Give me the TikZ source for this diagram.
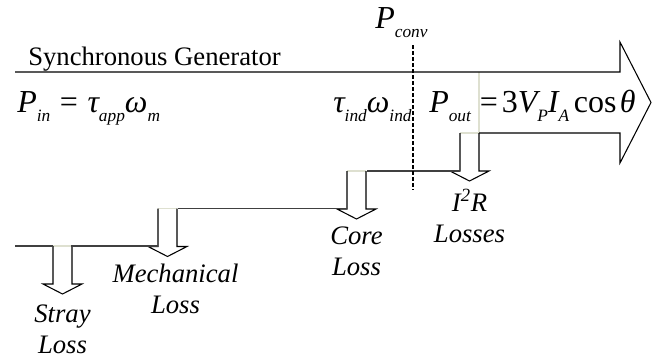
\documentclass[tikz,border=0pt]{standalone}
\usepackage{fontspec}
\setmainfont{Liberation Serif}
\usetikzlibrary{positioning}

\definecolor{seamgray}{RGB}{222,224,208}

\newcommand{\sbscr}[1]{\raisebox{-0.3em}{\fontsize{13}{13}\selectfont #1}}
\newcommand{\eqsign}{\hspace{0.3em}{\upshape =}\hspace{0.3em}}

\begin{document}
\begin{tikzpicture}[
    x=0.75pt,
    y=-0.75pt,
    outline/.style={draw=black, line width=0.8pt},
    stair/.style={draw=black!75, line width=0.9pt},
    seam/.style={draw=seamgray, line width=0.9pt},
    convline/.style={draw=black, line width=1.1pt, dash pattern=on 3pt off 1.5pt},
    title/.style={font=\fontsize{20}{24}\selectfont, inner sep=0pt, anchor=base west},
    power/.style={font=\fontsize{24}{28}\selectfont\itshape, inner sep=0pt, anchor=base west},
    losslabel/.style={font=\fontsize{20}{23}\selectfont\itshape, align=center, inner sep=0pt}
  ]
    \useasboundingbox (0,0) rectangle (657,362);

    \draw[seam] (479,72) -- (479,133);
    \draw[outline] (15,72) -- (620,72) -- (620,42) -- (651,102.5) -- (620,163) -- (620,133) -- (479,133);

    \foreach \xl/\yt/\name in {53/246/stray,158/208.5/mech,347/171/core,460/133/cu} {
      \draw[seam] (\xl,\yt) -- ++(19,0);
      \draw[outline] (\xl+19,\yt) -- ++(0,38) -- ++(10,0) -- ++(-19.5,10) coordinate (\name)
        -- ++(-19.5,-10) -- ++(10,0) -- ++(0,-38);
    }

    \foreach \xa/\xb/\y in {460/367/171,347/178/208.5,158/71/246,53/15/246}
      \draw[stair] (\xa,\y) -- (\xb,\y);

    \coordinate (convtop) at (413,45);
    \coordinate (convbot) at (413,190);
    \draw[convline] (convtop) -- (convbot);

    \node[title] (gen) at (28,65) {Synchronous Generator};
    \node[power] (pin) at (17,112) {P\sbscr{in}\eqsign τ\sbscr{app}ω\sbscr{m}};
    \node[power] (pind) at (333,112) {τ\sbscr{ind}ω\sbscr{ind}};
    \node[power] (pout) at (429,112) {P\sbscr{out}\hspace{0.28em}{\upshape =}\hspace{0.12em}{\upshape 3}V\sbscr{P}I\sbscr{A}\hspace{0.15em}{\upshape cos}\hspace{0.1em}θ};
    \node[power] (pconv) at (375,28) {P\sbscr{conv}};

    \node[losslabel, below=8pt of stray] (straylbl) {Stray\\Loss};
    \node[losslabel, below=5.5pt of mech, xshift=6pt] (mechlbl) {Mechanical\\Loss};
    \node[losslabel, below=6pt of core] (corelbl) {Core\\Loss};
    \node[losslabel, below=6pt of cu] (culbl) {I\textsuperscript{2}R\\Losses};
  \end{tikzpicture}
\end{document}
